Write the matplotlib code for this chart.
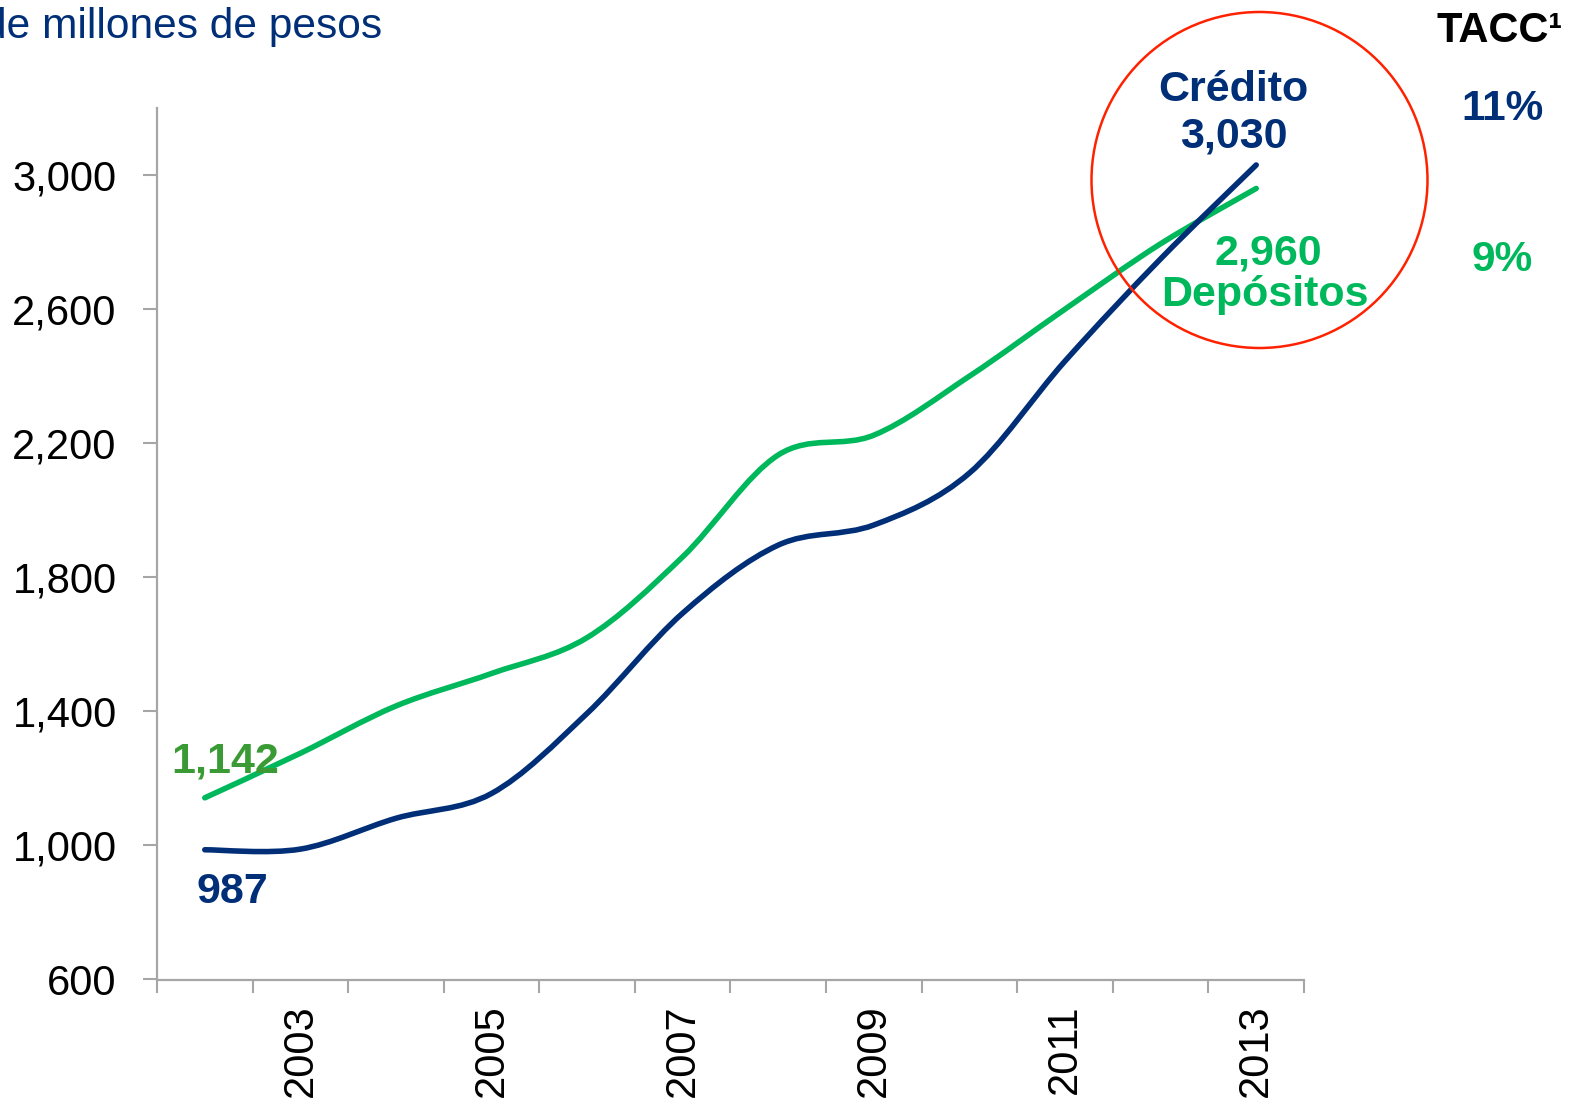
import matplotlib
matplotlib.use("Agg")
import matplotlib.pyplot as plt
from matplotlib.path import Path
from matplotlib.patches import PathPatch, Ellipse

years = [2002, 2003, 2004, 2005, 2006, 2007, 2008, 2009, 2010, 2011, 2012, 2013]
credito = [987, 989, 1081, 1155, 1394, 1693, 1896, 1956, 2111, 2445, 2750, 3030]
depositos = [1142, 1275, 1416, 1513, 1620, 1861, 2165, 2224, 2400, 2600, 2795, 2960]
tacc = ["11%", "9%"]

NAVY = "#002F78"
GREEN = "#00B85C"
GREEN_LBL = "#3A9B35"
GREY = "#A6A6A6"

plt.rcParams['font.family'] = ['Liberation Sans', 'DejaVu Sans']

W, H = 1585, 1104


def smooth_path(xs, ys):
    # catmull-rom -> cubic bezier, same idea as excel "smoothed line"
    pts = list(zip(xs, ys))
    verts = [pts[0]]
    codes = [Path.MOVETO]
    n = len(pts)
    for i in range(n - 1):
        p0 = pts[i - 1] if i > 0 else pts[i]
        p1 = pts[i]
        p2 = pts[i + 1]
        p3 = pts[i + 2] if i + 2 < n else pts[i + 1]
        c1 = (p1[0] + (p2[0] - p0[0]) / 6, p1[1] + (p2[1] - p0[1]) / 6)
        c2 = (p2[0] - (p3[0] - p1[0]) / 6, p2[1] - (p3[1] - p1[1]) / 6)
        verts += [c1, c2, p2]
        codes += [Path.CURVE4] * 3
    return Path(verts, codes)


fig = plt.figure(figsize=(W / 100, H / 100), dpi=100)
ax = fig.add_axes([157 / W, 1 - 979.5 / H, (1304 - 157) / W, (979.5 - 108) / H])

x = list(range(len(years)))
for vals, col in [(depositos, GREEN), (credito, NAVY)]:
    ax.add_patch(PathPatch(smooth_path(x, vals), fill=False, edgecolor=col,
                           lw=4.0, capstyle='round'))

ax.set_xlim(-0.5, len(years) - 0.5)
ax.set_ylim(600, 3200)
yt = [600, 1000, 1400, 1800, 2200, 2600, 3000]
ax.set_yticks(yt)
ax.set_yticklabels([f"{v:,}" for v in yt])

# year labels every other category, tick marks on the category borders
ax.set_xticks([i + 0.5 for i in range(-1, len(years))], minor=True)
ax.set_xticks(x[1::2])
ax.set_xticklabels([str(y) for y in years[1::2]], rotation=90)
ax.tick_params(axis='x', which='major', length=0, pad=18, labelsize=30)
ax.tick_params(axis='x', which='minor', length=9, width=1.5, color=GREY, direction='out')
ax.tick_params(axis='y', length=10, width=1.5, color=GREY, labelsize=30, pad=19)

for s in ['top', 'right']:
    ax.spines[s].set_visible(False)
for s in ['left', 'bottom']:
    ax.spines[s].set_color(GREY)
    ax.spines[s].set_linewidth(1.6)

# labels on the series (offsets in pixels)
lbl = dict(textcoords='offset pixels', ha='center', va='baseline', fontsize=31, fontweight='bold')
ax.annotate(f"{depositos[0]:,}", (x[0], depositos[0]), xytext=(20, 25), color=GREEN_LBL, **lbl)
ax.annotate(f"{credito[0]:,}", (x[0], credito[0]), xytext=(28, -53), color=NAVY, **lbl)
ax.annotate("Crédito", (x[-1], credito[-1]), xytext=(-23, 64), color=NAVY, **lbl)
ax.annotate(f"{credito[-1]:,}", (x[-1], credito[-1]), xytext=(-22, 17), color=NAVY, **lbl)
ax.annotate(f"{depositos[-1]:,}", (x[-1], depositos[-1]), xytext=(12, -76), color=GREEN, **lbl)
ax.annotate("Depósitos", (x[-1], depositos[-1]), xytext=(9, -118), color=GREEN, **lbl)

# red highlight circle
fig.patches.append(Ellipse((1259.5 / W, 1 - 180 / H), 336 / W, 336 / H,
                           transform=fig.transFigure, fill=False, edgecolor="#FF2200", lw=1.8))

# title is cut at the left edge in the original slide
fig.text(382 / W, 1 - 38.4 / H, "de millones de pesos", fontsize=30.6, color=NAVY, va='baseline', ha='right')
fig.text(1500 / W, 1 - 42.5 / H, "TACC¹", fontsize=30, fontweight='bold', color='black',
         va='baseline', ha='center')
fig.text(1502 / W, 1 - 120.3 / H, tacc[0], fontsize=30.5, fontweight='bold', color=NAVY, va='baseline', ha='center')
fig.text(1502 / W, 1 - 271 / H, tacc[1], fontsize=30.5, fontweight='bold', color=GREEN, va='baseline', ha='center')

fig.savefig("out.png", dpi=100)
